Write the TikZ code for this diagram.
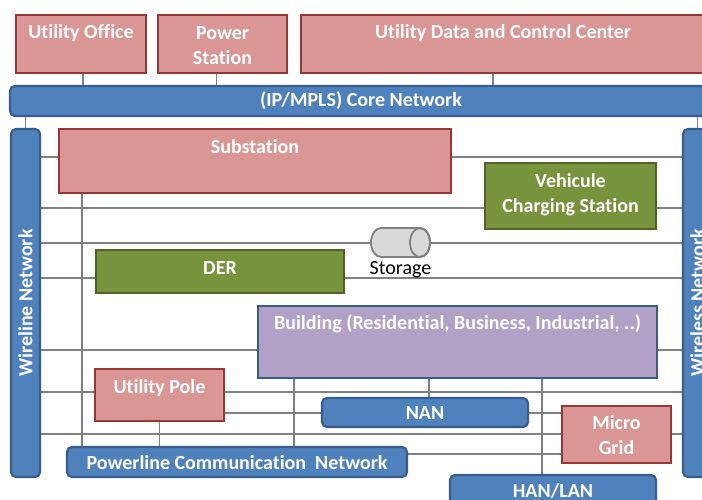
\documentclass[tikz,border=0pt]{standalone}
\usepackage{fontspec}
\setmainfont{Carlito}[Ligatures=NoCommon]
\definecolor{redfill}{HTML}{D99694}
\definecolor{redline}{HTML}{953735}
\definecolor{bluefill}{HTML}{4F81BD}
\definecolor{blueline}{HTML}{385D8A}
\definecolor{greenfill}{HTML}{77933C}
\definecolor{greenline}{HTML}{4F6228}
\definecolor{purplefill}{HTML}{B2A1C7}
\definecolor{wire}{HTML}{808080}
\definecolor{stofill}{HTML}{D9D9D9}
\tikzset{
  box/.style={rectangle, line width=2.2pt, outer sep=0pt, inner sep=0pt},
  redbox/.style={box, fill=redfill, draw=redline},
  bluebar/.style={box, fill=bluefill, draw=blueline, rounded corners=5pt},
  greenbox/.style={box, fill=greenfill, draw=greenline},
  purplebox/.style={box, fill=purplefill, draw=blueline},
  txt/.style={text=white, font=\fontsize{20}{25}\selectfont\bfseries, align=center, inner sep=0pt},
  wireline/.style={draw=wire, line width=1.8pt},
}
\begin{document}
\begin{tikzpicture}[x=1pt, y=-1pt]
\useasboundingbox (0,0) rectangle (702,500);
\clip (0,0) rectangle (702,500);
\fill[white] (0,0) rectangle (702,500);

% node geometry (invisible, for names)
\path
  (81,44) node[box, minimum width=130, minimum height=58] (uo) {}
  (222.5,44) node[box, minimum width=129, minimum height=58] (ps) {}
  (503,44) node[box, minimum width=404, minimum height=58] (udcc) {}
  (361,101) node[box, minimum width=702, minimum height=30] (core) {}
  (25.5,303) node[box, minimum width=29, minimum height=348] (wl) {}
  (697.5,303) node[box, minimum width=29, minimum height=348] (wls) {}
  (255,161) node[box, minimum width=392, minimum height=64] (sub) {}
  (570.5,196) node[box, minimum width=171, minimum height=66] (veh) {}
  (220,271.5) node[box, minimum width=248, minimum height=43] (der) {}
  (400.5,242.5) node[box, minimum width=59, minimum height=29] (sto) {}
  (457.5,342) node[box, minimum width=399, minimum height=72] (bld) {}
  (159.5,395) node[box, minimum width=129, minimum height=52] (pole) {}
  (425,412.5) node[box, minimum width=206, minimum height=29] (nan) {}
  (616.5,434.5) node[box, minimum width=109, minimum height=57] (mg) {}
  (237,462) node[box, minimum width=340, minimum height=30] (plc) {}
  (553,490) node[box, minimum width=206, minimum height=30] (han) {};

% wires
\begin{scope}[wireline]
  \draw ([xshift=2pt]uo.south) -- ([xshift=2pt]uo.south |- core.north);
  \draw ([xshift=-6pt]ps.south) -- ([xshift=-6pt]ps.south |- core.north);
  \draw ([xshift=-10pt]udcc.south) -- ([xshift=-10pt]udcc.south |- core.north);
  \draw (wl.north |- core.south) -- (wl.north);
  \draw (wls.north |- core.south) -- (wls.north);
  \foreach \yy in {157,208,243,278,350,392,434}
    \draw (wl.east |- 0,\yy) -- (wls.west |- 0,\yy);
  \draw (pole.east |- 0,413) -- (mg.west |- 0,413);
  \draw (plc.east |- 0,454) -- (mg.west |- 0,454);
  \draw (82,0 |- sub.south) -- (82,0 |- plc.north);
  \draw (pole.south) -- (pole.south |- plc.north);
  \draw (294,0 |- bld.south) -- (294,0 |- plc.north);
  \draw (429,0 |- bld.south) -- (429,0 |- nan.north);
  \draw (542,0 |- bld.south) -- (542,0 |- han.north);
\end{scope}

% visible boxes on top of wires
\path
  (uo.center) node[redbox, minimum width=130, minimum height=58] {}
  (ps.center) node[redbox, minimum width=129, minimum height=58] {}
  (udcc.center) node[redbox, minimum width=404, minimum height=58] {}
  (core.center) node[bluebar, minimum width=702, minimum height=30] {}
  (wl.center) node[bluebar, minimum width=29, minimum height=348] {}
  (wls.center) node[bluebar, minimum width=29, minimum height=348] {}
  (sub.center) node[redbox, minimum width=392, minimum height=64] {}
  (veh.center) node[greenbox, minimum width=171, minimum height=66] {}
  (der.center) node[greenbox, minimum width=248, minimum height=43] {}
  (bld.center) node[purplebox, minimum width=399, minimum height=72] {}
  (pole.center) node[redbox, minimum width=129, minimum height=52] {}
  (nan.center) node[bluebar, minimum width=206, minimum height=29] {}
  (mg.center) node[redbox, minimum width=109, minimum height=57] {}
  (plc.center) node[bluebar, minimum width=340, minimum height=30] {}
  (han.center) node[bluebar, minimum width=206, minimum height=30] {};

% storage cylinder
\draw[draw=wire, fill=stofill, line width=1.8pt]
  (381,228) -- (420,228) arc[start angle=-90, end angle=90, x radius=10, y radius=14.5]
  -- (381,257) arc[start angle=90, end angle=270, x radius=10, y radius=14.5] -- cycle;
\draw[draw=wire, line width=1.8pt] (420,242.5) ellipse[x radius=10, y radius=14.5];

% texts
\node[txt] (tuo) at (81,33) {Utility Office};
\node[txt] (tps) at (222.5,45.5) {Power\\Station};
\node[txt] (tudcc) at (503,33) {Utility Data and Control Center};
\node[txt] (tcore) at (361,101) {(IP/MPLS) Core Network};
\node[txt, rotate=90] (twl) at (25.5,303) {Wireline Network};
\node[txt, rotate=90] (twls) at (697.5,303) {Wireless Network};
\node[txt] (tsub) at (255,147) {Substation};
\node[txt] (tveh) at (570.5,194.5) {Vehicule\\Charging Station};
\node[txt] (tder) at (220,268) {DER};
\node[inner sep=0pt, font=\fontsize{20}{24}\selectfont] (tsto) at (400.5,269.5) {Storage};
\node[txt] (tbld) at (457.5,324) {Building (Residential, Business, Industrial, ..)};
\node[txt] (tpole) at (159.5,388) {Utility Pole};
\node[txt] (tnan) at (425,413) {NAN};
\node[txt] (tmg) at (616.5,435) {Micro\\Grid};
\node[txt] (tplc) at (237,463) {Powerline Communication~ Network};
\node[txt] (than) at (553,491) {HAN/LAN};
\end{tikzpicture}
\end{document}
